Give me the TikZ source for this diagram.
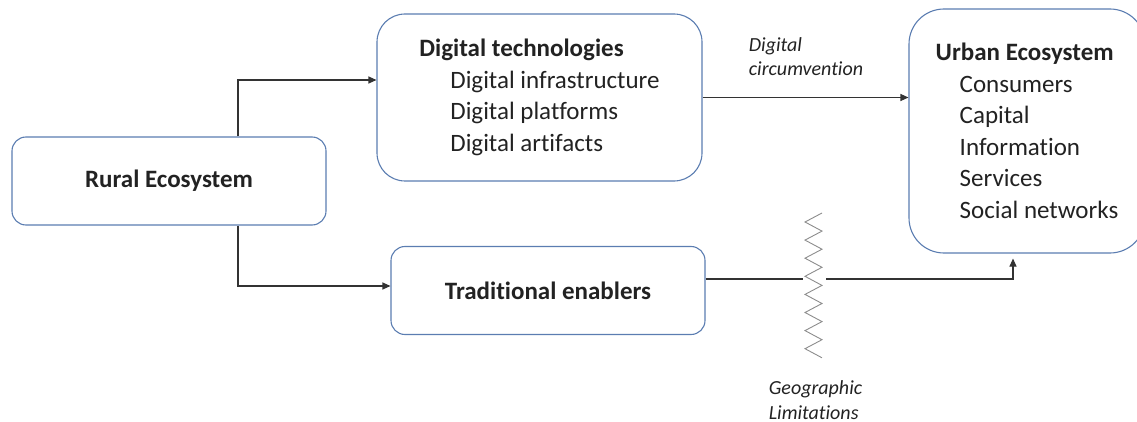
\documentclass[tikz,border=0pt]{standalone}
\usepackage{fontspec}
\setmainfont{Carlito}[Ligatures={NoCommon}]
\usepackage{xcolor}
\usepackage{tikz}
\usetikzlibrary{arrows.meta,positioning}

\definecolor{boxline}{HTML}{5B7DB1}
\definecolor{wire}{HTML}{333333}
\definecolor{ink}{HTML}{222222}

\begin{document}
\begin{tikzpicture}[
  x=1pt, y=-1pt,
  eco/.style={rectangle, draw=boxline, line width=1.1pt, text=ink,
    font=\fontsize{25}{31.5}\selectfont, align=left, inner sep=0pt},
  small/.style={eco, minimum width=314pt, minimum height=88pt, rounded corners=14pt},
  note/.style={text=ink, font=\fontsize{20}{24.5}\selectfont\itshape, align=left},
  conn/.style={draw=wire, line width=1.1pt},
  >={Triangle[length=8pt,width=7pt]}
]
  \clip (0,0) rectangle (1137,422);

  \node[small] (rural) at (169,181) {\textbf{Rural Ecosystem}};
  \node[eco, minimum width=325pt, minimum height=167pt, rounded corners=28pt]
    (digital) at (539.5,97.5) {\textbf{Digital technologies}\\
    \hspace*{31pt}Digital infrastructure\\
    \hspace*{31pt}Digital platforms\\
    \hspace*{31pt}Digital artifacts};
  \node[small] (trad) at (548,290.5) {\textbf{Traditional enablers}};
  \node[eco, minimum width=236pt, minimum height=244pt, rounded corners=35pt]
    (urban) at (1027,131) {\textbf{Urban Ecosystem}\\
    \hspace*{24pt}Consumers\\
    \hspace*{24pt}Capital\\
    \hspace*{24pt}Information\\
    \hspace*{24pt}Services\\
    \hspace*{24pt}Social networks};

  \node[note] (circ) at (806,56.5) {Digital\\circumvention};
  \node[note] (geo) at (815.5,400) {Geographic\\Limitations};

  % barrier
  \draw[color=black!45, line width=0.9pt] (822,213)
    \foreach \k in {0,...,7}{ -- (805,{222+18.1*\k}) -- (822,{231.1+18.1*\k}) };
  \coordinate (zzl) at (803,279);
  \coordinate (zzr) at (826,279);

  \draw[conn,->] ([xshift=69pt]rural.north) |- ([yshift=17.5pt]digital.west);
  \draw[conn,->] ([xshift=69pt]rural.south) |- ([yshift=4.5pt]trad.west);
  \draw[conn,->] (digital.east) -- (digital.east -| urban.west);
  \draw[conn] (trad.east |- zzl) -- (zzl);
  \draw[conn,->] (zzr) -| ([xshift=-14pt,yshift=-5pt]urban.south);
\end{tikzpicture}
\end{document}
